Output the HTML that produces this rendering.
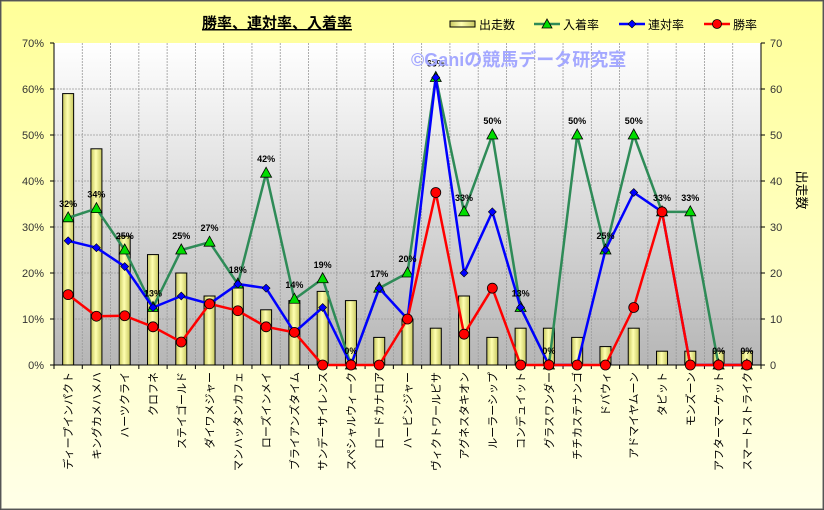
<!DOCTYPE html>
<html><head><meta charset="utf-8"><style>
html,body{margin:0;padding:0;background:#fff}
svg{display:block;font-family:"Liberation Sans","Noto Sans CJK JP",sans-serif}
</style></head><body>
<svg id="s" width="824" height="510" viewBox="0 0 824 510" xmlns="http://www.w3.org/2000/svg">
<defs>
<linearGradient id="bg" x1="0" y1="0" x2="0" y2="1"><stop offset="0" stop-color="#ffff99"/><stop offset="1" stop-color="#ffffe8"/></linearGradient>
<linearGradient id="pa" x1="0" y1="0" x2="0" y2="1"><stop offset="0" stop-color="#ffffff"/><stop offset="1" stop-color="#b6b6b6"/></linearGradient>
<linearGradient id="bar" x1="0" y1="0" x2="1" y2="0"><stop offset="0" stop-color="#c8c860"/><stop offset="0.45" stop-color="#ffffb0"/><stop offset="1" stop-color="#c8c860"/></linearGradient>
</defs>
<rect x="0.5" y="0.5" width="823" height="509" fill="url(#bg)" stroke="#444" stroke-width="1"/>
<rect x="1" y="1" width="822" height="508" fill="none" stroke="#666" stroke-width="1"/>
<rect x="54" y="43" width="707" height="322" fill="url(#pa)"/>
<g id="g"></g>
<text x="277" y="28" font-size="15" font-weight="bold" text-anchor="middle" text-decoration="underline">勝率、連対率、入着率</text>
<text x="411" y="66" font-size="18" font-weight="bold" fill="#a4a8ff">©Ganiの競馬データ研究室</text>
<g font-size="12">
<rect x="450" y="21" width="25" height="6" fill="url(#bar)" stroke="#000"/><text x="479" y="29">出走数</text>
<line x1="534" y1="24" x2="560" y2="24" stroke="#2e8b57" stroke-width="2.5"/><polygon points="547,19 552,28 542,28" fill="#00dd00" stroke="#000" stroke-width="0.8"/><text x="563" y="29">入着率</text>
<line x1="619" y1="24" x2="645" y2="24" stroke="#0000ff" stroke-width="2.5"/><polygon points="632,20 636,24 632,28 628,24" fill="#0000ff" stroke="#000" stroke-width="0.6"/><text x="648" y="29">連対率</text>
<line x1="704" y1="24" x2="730" y2="24" stroke="#ff0000" stroke-width="2.5"/><circle cx="717" cy="24" r="4.5" fill="#ff0000" stroke="#000" stroke-width="0.8"/><text x="733" y="29">勝率</text>
</g>
<text transform="translate(797,190) rotate(90)" font-size="13" text-anchor="middle">出走数</text>
</svg>
<script>
const names=["ディープインパクト","キングカメハメハ","ハーツクライ","クロフネ","ステイゴールド","ダイワメジャー","マンハッタンカフェ","ローズインメイ","ブライアンズタイム","サンデーサイレンス","スペシャルウィーク","ロードカナロア","ハービンジャー","ヴィクトワールピサ","アグネスタキオン","ルーラーシップ","コンデュイット","グラスワンダー","チチカステナンゴ","ドバウィ","アドマイヤムーン","タピット","モンズーン","アフターマーケット","スマートストライク"];
const bars=[59,47,28,24,20,15,17,12,14,16,14,6,10,8,15,6,8,8,6,4,8,3,3,3,3];
const g3=[32,34,25,12.5,25,26.7,17.6,41.7,14.3,18.75,0,16.7,20,62.5,33.3,50,12.5,0,50,25,50,33.3,33.3,0,0];
const lab=["32%","34%","25%","13%","25%","27%","18%","42%","14%","19%","0%","17%","20%","63%","33%","50%","13%","0%","50%","25%","50%","33%","33%","0%","0%"];
const b2=[27,25.5,21.4,12.5,15,13.3,17.6,16.7,7.1,12.5,0,16.7,10,62.5,20,33.3,12.5,0,0,25,37.5,33.3,0,0,0];
const r1=[15.3,10.6,10.7,8.3,5,13.3,11.8,8.3,7.1,0,0,0,10,37.5,6.7,16.7,0,0,0,0,12.5,33.3,0,0,0];
const X=i=>54+28.28*(i+0.5), Y=v=>365-v*4.6;
let h='';
for(let k=1;k<7;k++){h+=`<line x1="54" x2="761" y1="${Y(k*10)}" y2="${Y(k*10)}" stroke="#999" stroke-dasharray="2,1" stroke-width="0.8"/>`;}
for(let i=1;i<25;i++){const x=54+28.28*i;h+=`<line x1="${x}" x2="${x}" y1="43" y2="365" stroke="#999" stroke-dasharray="2,1" stroke-width="0.8"/>`;}
for(let k=0;k<=7;k++){const y=Y(k*10);h+=`<text x="44" y="${y+4}" font-size="11" fill="#333" text-anchor="end">${k*10}%</text><text x="770" y="${y+4}" font-size="11" fill="#333">${k*10}</text><line x1="50" x2="54" y1="${y}" y2="${y}" stroke="#000"/><line x1="761" x2="765" y1="${y}" y2="${y}" stroke="#000"/>`;}
bars.forEach((v,i)=>{h+=`<rect x="${X(i)-5.5}" y="${Y(v)}" width="11" height="${v*4.6}" fill="url(#bar)" stroke="#000" stroke-width="1"/>`;});
h+=`<line x1="54" x2="54" y1="43" y2="365" stroke="#000"/><line x1="761" x2="761" y1="43" y2="365" stroke="#000"/><line x1="54" x2="761" y1="365" y2="365" stroke="#000"/>`;
for(let i=0;i<=25;i++){const x=54+28.28*i;h+=`<line x1="${x}" x2="${x}" y1="365" y2="369" stroke="#000"/>`;}
const pl=(a,c)=>`<polyline fill="none" stroke="${c}" stroke-width="2.5" stroke-linejoin="round" points="${a.map((v,i)=>X(i)+','+Y(v)).join(' ')}"/>`;
h+=pl(g3,"#2e8b57");
g3.forEach((v,i)=>{const x=X(i),y=Y(v);h+=`<polygon points="${x},${y-6} ${x+5.5},${y+4} ${x-5.5},${y+4}" fill="#00dd00" stroke="#000" stroke-width="0.8"/>`;});
h+=pl(b2,"#0000ff");
b2.forEach((v,i)=>{const x=X(i),y=Y(v);h+=`<polygon points="${x},${y-4} ${x+4},${y} ${x},${y+4} ${x-4},${y}" fill="#0000ff" stroke="#000" stroke-width="0.6"/>`;});
h+=pl(r1,"#ff0000");
r1.forEach((v,i)=>{h+=`<circle cx="${X(i)}" cy="${Y(v)}" r="5" fill="#ff0000" stroke="#000" stroke-width="0.8"/>`;});
g3.forEach((v,i)=>{h+=`<text x="${X(i)}" y="${Y(v)-11}" font-size="9" font-weight="bold" text-anchor="middle">${lab[i]}</text>`;});
names.forEach((n,i)=>{h+=`<text transform="translate(${X(i)+4},372) rotate(-90)" font-size="11" text-anchor="end">${n}</text>`;});
document.getElementById('g').innerHTML=h;
</script>
</body></html>
